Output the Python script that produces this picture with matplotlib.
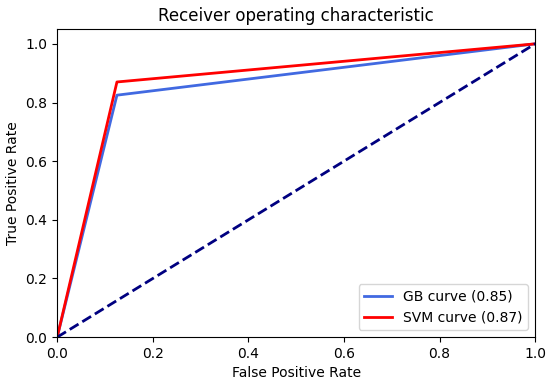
import matplotlib
matplotlib.use("Agg")
import matplotlib.pyplot as plt

fpr = [0.0, 0.125, 1.0]
gb_tpr = [0.0, 0.825, 1.0]
svm_tpr = [0.0, 0.87, 1.0]
chance = [0.0, 1.0]
gb_label = "GB curve (0.85)"
svm_label = "SVM curve (0.87)"

fig = plt.figure(figsize=(5.5, 3.84), dpi=100)
ax = fig.add_axes([0.104, 0.122, 0.869, 0.802])
ax.plot(fpr, gb_tpr, color="#4169E1", lw=2, label=gb_label)
ax.plot(fpr, svm_tpr, color="red", lw=2, label=svm_label)
ax.plot(chance, chance, color="navy", lw=2, linestyle="--")
ax.set_xlim(0.0, 1.0)
ax.set_ylim(0.0, 1.05)
ax.set_xlabel("False Positive Rate")
ax.set_ylabel("True Positive Rate")
ax.set_title("Receiver operating characteristic")
ax.legend(loc="lower right")
fig.savefig("out.png", dpi=100)
